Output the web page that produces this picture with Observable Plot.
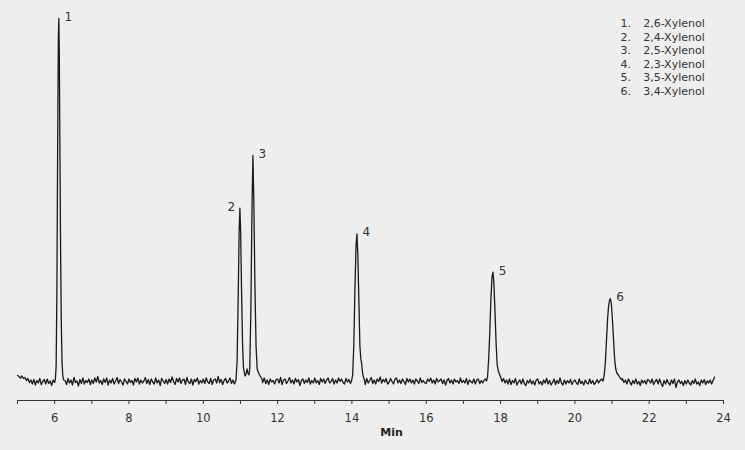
<!DOCTYPE html>
<html><head><meta charset="utf-8">
<script src="https://cdn.jsdelivr.net/npm/d3@7"></script>
<script src="https://cdn.jsdelivr.net/npm/@observablehq/plot@0.6"></script>
<style>
html,body{margin:0;padding:0;background:#eeeeee;}
#wrap{position:relative;width:745px;height:450px;}
#legend{position:absolute;left:620.5px;top:17px;font:11px "DejaVu Sans",sans-serif;color:#333;line-height:13.55px;}
#legend .row{display:flex;white-space:nowrap;}
#legend .num{width:22.7px;}
</style></head><body><div id="wrap"><div id="legend"></div></div>
<script>
// ---- Data ----
const compounds = ["2,6-Xylenol","2,4-Xylenol","2,5-Xylenol","2,3-Xylenol","3,5-Xylenol","3,4-Xylenol"];
const peakNumbers = [1, 2, 3, 4, 5, 6];
const peakTimes   = [6.112, 10.985, 11.335, 14.135, 17.797, 20.958];
const peakHeights = [362.5, 172.8, 225.5, 147.2, 108.8, 82.2];

const axisTicks    = [5,6,7,8,9,10,11,12,13,14,15,16,17,18,19,20,21,22,23,24];
const labeledTicks = [6,8,10,12,14,16,18,20,22,24];
const xDomain = [5, 24];
const yDomain = [-19.5, 362.5];

// baseline detector noise, sampled every 0.04 min from 5.00 min (one row per minute)
const baseStart = 5.0, baseStep = 0.04;
const baselineNoise = [
  5.5, 4.5, 3.0, 5.0, 2.5, 3.5, 0.5, 2.5,-1.5, 1.0,-3.0, 1.5,-4.0, 0.5,-2.0, 2.5,-3.5,-0.5, 1.5,-3.0, 2.0,-2.5, 0.0,-4.5, 1.0,
 -1.5, 2.0,-3.0, 1.0,-2.0, 3.0,-1.0, 0.5,-3.5, 2.5,-2.0, 1.0,-4.0, 3.5,-1.5, 0.0,-5.0, 1.5,-2.5, 3.0,-3.0, 0.5,-1.5, 2.0,-3.5,
  1.0,-2.5, 3.0,-1.0, 4.5,-2.0, 0.5,-3.5, 2.0,-1.5, 3.0,-4.0, 1.0,-2.0, 2.5,-3.0, 0.0, 3.5,-2.5, 1.5,-1.0,-4.0, 2.0,-0.5,-3.0,
  2.0,-1.5, 0.5,-4.0, 2.5,-1.0, 3.0,-3.0, 1.0,-2.0, 0.0, 3.5,-2.5, 1.5,-3.5, 2.0,-1.0,-3.0, 3.0,-2.0, 1.0,-4.5, 2.5, 0.0,-2.5,
  1.5,-3.0, 2.0,-1.5, 4.0,-0.5,-3.5, 2.5,-1.0, 3.0,-2.5, 1.0, 2.0,-3.5, 3.5,-1.0,-2.5, 2.0,-4.0, 1.5,-0.5, 3.0,-3.0, 0.5,-2.0,
  2.0,-2.5, 3.0,-1.0,-2.5, 2.5,-3.5, 1.0, 2.0,-2.0, 4.5,-1.5, 1.5,-3.5, 0.5, 2.5,-2.0, 0.0, 3.0,-2.5, 1.0,-3.0, 2.0,-1.0, 1.5,
 -1.0, 2.0,-2.5, 1.0, 3.0,-2.5, 1.5,-3.0, 0.5, 2.0,-3.5, 2.5, 0.5,-4.0, 2.0,-1.5, 3.0,-2.5, 1.0,-3.5, 2.0,-1.0, 0.5,-3.0, 1.5,
  2.0,-2.0, 3.5,-3.5, 1.0, 2.0,-2.5, 0.0, 3.5,-2.0, 1.0,-3.0, 2.5,-1.0, 1.5,-4.5, 0.5, 2.0,-2.5, 1.0,-1.5, 3.0,-3.0, 0.5,-2.0,
  3.0,-2.0, 0.5,-3.5, 2.5,-1.0, 2.0,-2.5, 1.0, 3.0,-2.0,-0.5, 2.5,-3.0, 1.0,-2.0, 3.0,-0.5, 2.0,-1.5,-3.0, 2.5,-1.0, 1.5,-2.5,
  2.0, 0.5, 3.0, 1.0, 2.0,-0.5, 3.0,-2.0, 1.0,-3.5, 2.5,-2.0, 0.5, 3.5,-2.5, 1.0,-3.0, 2.0,-0.5, 4.0,-2.0, 1.5,-1.0, 2.5,-3.0,
 -1.5, 2.5,-0.5,-3.0, 2.0, 3.0,-2.0, 1.0,-2.5, 2.0,-0.5,-3.5, 2.5,-1.0, 2.0,-2.0, 1.0,-3.0, 2.0, 0.0,-2.5, 3.0,-1.5, 0.5,-2.0,
 -2.5, 2.0,-0.5, 3.0,-2.0, 1.0,-3.0, 2.5,-1.0, 0.5, 2.0,-2.5, 1.0,-4.0, 0.5, 2.5,-2.0, 1.0,-3.0, 2.0,-1.0, 0.5,-2.5, 3.0,-1.5,
  0.5,-2.0, 2.5,-3.5, 1.0,-0.5,-2.0, 2.0,-3.0, 1.0, 2.0,-2.5, 0.5,-2.0, 1.0, 2.0,-0.5,-2.0, 1.0, 0.0, 2.5,-1.0, 1.0,-2.5, 2.0,
  3.0,-0.5, 2.5,-2.0, 1.0,-3.0, 2.0,-3.5, 0.5,-2.0, 2.5,-4.0,-1.0, 1.0,-3.0, 2.0,-2.5,-4.5, 0.5,-2.0, 1.5,-3.0, 0.0,-4.0, 1.0,
  2.0,-3.0,-0.5,-4.0, 1.0,-2.0, 2.5,-3.0, 0.5,-4.0,-1.5, 2.0,-3.5, 0.5,-2.5, 3.0,-2.0,-4.0, 1.0,-3.0, 0.5,-2.0, 1.5,-3.5,-0.5,
  1.0,-2.0,-3.5, 2.0,-2.5,-0.5,-4.0, 1.0,-2.0,-3.0, 2.0,-2.5, 0.5,-3.5,-1.5, 1.5,-2.0, 0.5, 2.0,-1.0, 1.0,-2.5, 0.0, 2.0,-1.5,
  0.5, 2.0,-1.0, 1.5, 2.5, 3.0, 0.5, 2.5,-1.5, 1.0,-3.0, 2.0,-1.0,-4.0, 0.5,-2.5, 2.0,-3.0,-0.5,-4.5, 1.0,-2.0, 0.5,-3.0, 1.5,
  0.5,-2.0, 2.0,-3.5,-0.5, 1.5,-3.0, 2.0,-2.5,-5.5, 0.5,-3.0, 1.5,-2.0,-4.0, 1.0,-2.5, 2.0,-6.5,-1.0, 1.0,-2.5,-0.5,-4.5, 0.5,
 -3.0, 1.0,-2.0,-4.0, 0.5,-2.5, 2.0,-3.0,-1.0,-4.5, 1.0,-2.0, 1.5,-3.5, 0.0,-2.0, 1.0,-3.0, 0.5, 4.0
];

// peak profiles (time in min, signal)
const peak1Time   = [6.02, 6.04, 6.06, 6.08, 6.10, 6.112, 6.125, 6.14, 6.16, 6.18, 6.20, 6.22, 6.24];
const peak1Signal = [2, 15, 90, 230, 345, 362.5, 330, 240, 130, 55, 18, 5, 1];
const peak23Time   = [10.88, 10.91, 10.94, 10.965, 10.985, 11.005, 11.03, 11.055, 11.08, 11.11, 11.13, 11.15, 11.18, 11.20, 11.23, 11.25, 11.28, 11.31, 11.335, 11.36, 11.39, 11.42, 11.45, 11.49, 11.53, 11.58];
const peak23Signal = [1, 20, 85, 150, 172.8, 150, 90, 40, 14, 7, 5, 7, 12, 8, 6, 12, 70, 170, 225.5, 180, 95, 35, 12, 8, 5, 2];
const peak4Time   = [13.99, 14.02, 14.05, 14.08, 14.11, 14.135, 14.16, 14.19, 14.215, 14.24, 14.26, 14.28, 14.30, 14.33];
const peak4Signal = [0, 6, 35, 90, 135, 147.2, 125, 75, 35, 22, 18, 10, 5, 2];
const peak5Time   = [17.62, 17.65, 17.68, 17.71, 17.74, 17.77, 17.797, 17.82, 17.85, 17.88, 17.91, 17.94, 17.97, 18.00, 18.03];
const peak5Signal = [0, 4, 22, 48, 82, 104, 108.8, 98, 70, 38, 16, 10, 7, 4, 1];
const peak6Time   = [20.76, 20.79, 20.82, 20.85, 20.88, 20.91, 20.935, 20.958, 20.98, 21.01, 21.04, 21.07, 21.10, 21.13, 21.17, 21.22, 21.27];
const peak6Signal = [0, 6, 18, 40, 62, 76, 81, 82.2, 78, 62, 42, 22, 12, 8, 6, 3, 1];

// ---- Build the trace ----
const segments = [
  [peak1Time, peak1Signal], [peak23Time, peak23Signal], [peak4Time, peak4Signal],
  [peak5Time, peak5Signal], [peak6Time, peak6Signal]
];
const windows = segments.map(([t]) => [d3.min(t), d3.max(t)]);
const trace = [];
baselineNoise.forEach((v, i) => {
  const t = Math.round((baseStart + i * baseStep) * 1000) / 1000;
  if (!windows.some(([a, b]) => t >= a && t <= b)) trace.push({t, v});
});
segments.forEach(([ts, vs]) => ts.forEach((t, i) => trace.push({t, v: vs[i]})));
trace.sort((a, b) => a.t - b.t);

const peaks = peakNumbers.map((n, i) => ({n, t: peakTimes[i], h: peakHeights[i]}));

const chart = Plot.plot({
  width: 745, height: 450,
  marginLeft: 17, marginRight: 22, marginTop: 18, marginBottom: 50,
  style: {background: "#eeeeee", fontFamily: "'DejaVu Sans', sans-serif", fontSize: "11.5px", color: "#333", overflow: "visible"},
  x: {domain: xDomain, label: null},
  y: {domain: yDomain, axis: null},
  marks: [
    Plot.ruleY([yDomain[0]], {stroke: "#333", strokeWidth: 1}),
    Plot.axisX(axisTicks, {tickSize: 4, tickPadding: 9, stroke: "#333", fill: "#333",
      tickFormat: d => labeledTicks.includes(d) ? String(d) : "", label: null}),
    Plot.line(trace, {x: "t", y: "v", stroke: "#1a1a1a", strokeWidth: 1.3}),
    Plot.text(peaks.filter(d => d.n !== 2), {x: "t", y: "h", text: d => String(d.n), dx: 9.5, dy: -1.5, fontSize: 12, fill: "#333"}),
    Plot.text(peaks.filter(d => d.n === 2), {x: "t", y: "h", text: d => String(d.n), dx: -8.5, dy: -1.5, fontSize: 12, fill: "#333"}),
    Plot.text(["Min"], {frameAnchor: "bottom", dx: 21, dy: 35, fontSize: 11, fontWeight: "bold", fill: "#222"})
  ]
});
document.getElementById("wrap").prepend(chart);

const legend = document.getElementById("legend");
compounds.forEach((name, i) => {
  const row = document.createElement("div");
  row.className = "row";
  row.innerHTML = `<span class="num">${peakNumbers[i]}.</span><span>${name}</span>`;
  legend.appendChild(row);
});
</script></body></html>
